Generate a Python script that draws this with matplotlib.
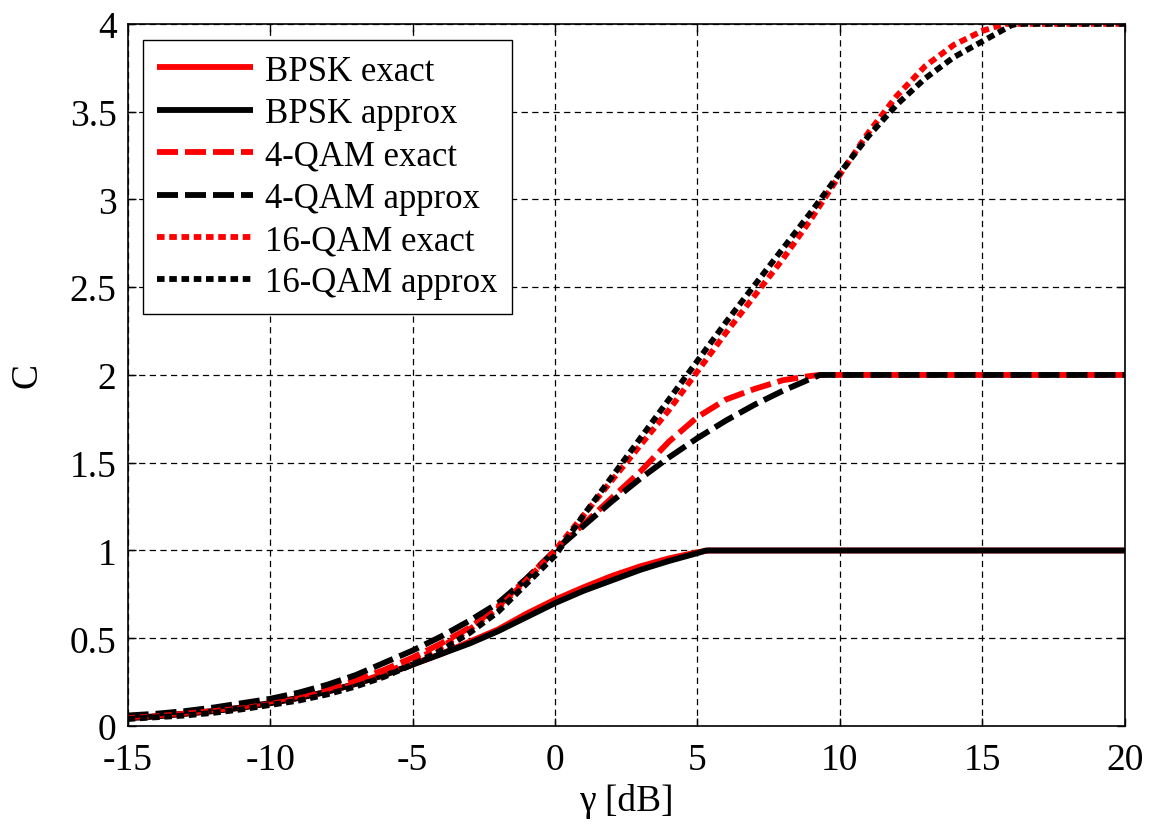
import matplotlib
matplotlib.use("Agg")
import matplotlib.pyplot as plt

plt.rcParams['font.family'] = ['Liberation Serif', 'DejaVu Serif']

# ---- data ----
x_bpsk_ex = [-15, -14, -13, -12, -11, -10, -9, -8, -7, -6, -5, -4, -3, -2, -1, 0, 1, 2, 3, 4, 5, 5.4, 20]
y_bpsk_ex = [0.045, 0.055, 0.07, 0.085, 0.105, 0.13, 0.16, 0.195, 0.24, 0.29, 0.35, 0.41, 0.48, 0.55, 0.64,
             0.72, 0.79, 0.855, 0.91, 0.955, 0.99, 1.0, 1.0]

x_bpsk_ap = [-15, -14, -13, -12, -11, -10, -9, -8, -7, -6, -5, -4, -3, -2, -1, 0, 1, 2, 3, 4, 5, 5.3, 20]
y_bpsk_ap = [0.045, 0.055, 0.07, 0.085, 0.105, 0.13, 0.16, 0.195, 0.24, 0.29, 0.35, 0.41, 0.47, 0.54, 0.62,
             0.70, 0.77, 0.83, 0.89, 0.94, 0.985, 1.0, 1.0]

x_qam4_ex = [-15, -14, -13, -12, -11, -10, -9, -8, -7, -6, -5, -4, -3, -2, -1, 0, 1, 2, 3, 4, 5, 6, 7, 8, 9, 9.3, 20]
y_qam4_ex = [0.05, 0.06, 0.075, 0.09, 0.11, 0.14, 0.17, 0.21, 0.26, 0.32, 0.39, 0.47, 0.56, 0.68, 0.84,
             1.0, 1.15, 1.3, 1.45, 1.62, 1.76, 1.86, 1.92, 1.97, 1.995, 2.0, 2.0]

x_qam4_ap = [-15, -14, -13, -12, -11, -10, -9, -8, -7, -6, -5, -4, -3, -2, -1, 0, 1, 2, 3, 4, 5, 6, 7, 8, 9, 9.3, 20]
y_qam4_ap = [0.06, 0.07, 0.085, 0.105, 0.13, 0.155, 0.19, 0.235, 0.29, 0.36, 0.43, 0.51, 0.60, 0.70, 0.84,
             1.0, 1.14, 1.28, 1.41, 1.53, 1.64, 1.74, 1.83, 1.91, 1.98, 2.0, 2.0]

x_qam16_ex = [-15, -14, -13, -12, -11, -10, -9, -8, -7, -6, -5, -4, -3, -2, -1, 0, 1, 2, 3, 4, 5, 6, 7, 8, 9,
              10, 11, 12, 13, 14, 15, 15.8, 20]
y_qam16_ex = [0.045, 0.055, 0.07, 0.085, 0.10, 0.125, 0.155, 0.19, 0.24, 0.30, 0.37, 0.45, 0.55, 0.67, 0.83,
              1.0, 1.2, 1.4, 1.6, 1.8, 2.02, 2.24, 2.45, 2.66, 2.89, 3.14, 3.38, 3.59, 3.76, 3.88, 3.96, 4.0, 4.0]

x_qam16_ap = [-15, -14, -13, -12, -11, -10, -9, -8, -7, -6, -5, -4, -3, -2, -1, 0, 1, 2, 3, 4, 5, 6, 7, 8, 9,
              10, 11, 12, 13, 14, 15, 16, 16.2, 20]
y_qam16_ap = [0.04, 0.05, 0.06, 0.075, 0.095, 0.12, 0.145, 0.18, 0.225, 0.28, 0.35, 0.43, 0.53, 0.65, 0.81,
              0.97, 1.2, 1.42, 1.64, 1.86, 2.08, 2.3, 2.51, 2.72, 2.93, 3.15, 3.36, 3.54, 3.69, 3.81, 3.90, 3.99,
              4.0, 4.0]

labels = ['BPSK exact', 'BPSK approx', '4-QAM exact', '4-QAM approx', '16-QAM exact', '16-QAM approx']
xticks = [-15, -10, -5, 0, 5, 10, 15, 20]
yticks = [0, 0.5, 1, 1.5, 2, 2.5, 3, 3.5, 4]
ytick_labels = ['0', '0.5', '1', '1.5', '2', '2.5', '3', '3.5', '4']

# ---- figure ----
fig = plt.figure(figsize=(11.5, 8.29), dpi=100)
ax = fig.add_axes([0.111, 0.123, 0.867, 0.847])

lw = 4.2
dashed = (0, (3.6, 1.2))
dotted = (0, (1.3, 0.8))
series = [
    (x_bpsk_ex, y_bpsk_ex, 'red', '-'),
    (x_bpsk_ap, y_bpsk_ap, 'black', '-'),
    (x_qam4_ex, y_qam4_ex, 'red', dashed),
    (x_qam4_ap, y_qam4_ap, 'black', dashed),
    (x_qam16_ex, y_qam16_ex, 'red', dotted),
    (x_qam16_ap, y_qam16_ap, 'black', dotted),
]
for (xs, ys, c, ls), lab in zip(series, labels):
    ax.plot(xs, ys, color=c, linestyle=ls, linewidth=lw, label=lab, solid_capstyle='butt',
            dash_capstyle='butt')

ax.set_xlim(-15, 20)
ax.set_ylim(0, 4)
ax.set_xticks(xticks)
ax.set_xticklabels([str(t) for t in xticks])
ax.set_yticks(yticks)
ax.set_yticklabels(ytick_labels)
ax.grid(True, color='black', linestyle=(0, (5, 3.5)), linewidth=0.9)
ax.set_axisbelow(True)
ax.tick_params(direction='in', length=6, width=1, top=True, right=True, labelsize=27)
ax.tick_params(axis='x', pad=12)
ax.tick_params(axis='y', pad=8)
for s in ax.spines.values():
    s.set_linewidth(1.2)

ax.set_xlabel('γ [dB]', fontsize=27, labelpad=4)
ax.set_ylabel('C', fontsize=27, labelpad=18)

leg = ax.legend(loc='upper left', bbox_to_anchor=(0.015, 0.977), borderaxespad=0, fontsize=25,
                frameon=True, fancybox=False, edgecolor='black', framealpha=1,
                handlelength=2.75, handletextpad=0.35, labelspacing=0.27, borderpad=0.42)
leg.get_frame().set_linewidth(1.0)

fig.savefig('out.png', dpi=100)
